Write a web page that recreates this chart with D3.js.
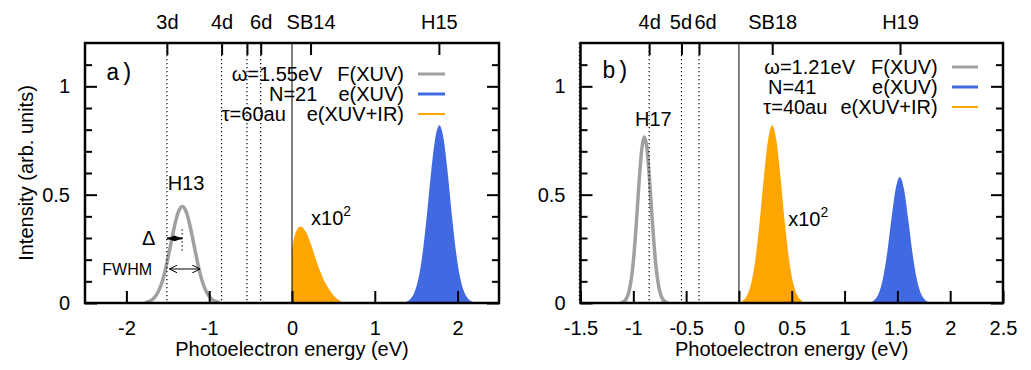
<!DOCTYPE html>
<html>
<head>
<meta charset="utf-8">
<script src="https://cdn.jsdelivr.net/npm/d3@7"></script>
<style>
  body { margin: 0; background: #fff; }
  text { font-family: "Liberation Sans", Arial, Helvetica, sans-serif; fill: #000; }
</style>
</head>
<body>
<script>
// ---- panel a) : omega = 1.55 eV ----
const fieldE_a = [-1.775, -1.725, -1.675, -1.625, -1.575, -1.525, -1.475, -1.425, -1.375, -1.325,
                  -1.275, -1.225, -1.175, -1.125, -1.075, -1.025, -0.975, -0.925, -0.875];
const field_a  = [0.0025, 0.0075, 0.0195, 0.045, 0.090, 0.160, 0.251, 0.345, 0.418, 0.445,
                  0.418, 0.345, 0.251, 0.160, 0.090, 0.045, 0.0195, 0.0075, 0.0025];
const xuvE_a = [1.33, 1.38, 1.43, 1.48, 1.53, 1.58, 1.63, 1.68, 1.73, 1.78,
                1.83, 1.88, 1.93, 1.98, 2.03, 2.08, 2.13, 2.18, 2.23];
const xuv_a  = [0.0015, 0.006, 0.018, 0.051, 0.118, 0.238, 0.408, 0.602, 0.759, 0.82,
                0.759, 0.602, 0.408, 0.238, 0.118, 0.051, 0.018, 0.006, 0.0015];
const irE_a = [0, 0.02, 0.04, 0.06, 0.08, 0.10, 0.12, 0.14, 0.16, 0.18, 0.20, 0.22, 0.24, 0.26, 0.28, 0.30,
               0.32, 0.34, 0.36, 0.38, 0.40, 0.42, 0.44, 0.46, 0.48, 0.50, 0.52, 0.54, 0.56, 0.58, 0.60, 0.62, 0.64];
const ir_a  = [0.24, 0.29, 0.32, 0.337, 0.348, 0.352, 0.351, 0.344, 0.332, 0.318, 0.30, 0.28, 0.258, 0.235, 0.211, 0.188,
               0.166, 0.146, 0.127, 0.11, 0.095, 0.081, 0.068, 0.056, 0.045, 0.036, 0.028, 0.021, 0.015, 0.010, 0.006, 0.003, 0];
const topLabels_a = ['3d', '4d', '', '6d', 'SB14', 'H15'];
const topE_a = [-1.511, -0.850, -0.544, -0.378, 0.224, 1.774];
const xTicks_a = [-2, -1, 0, 1, 2];
const params_a = ['\u03c9=1.55eV', 'N=21', '\u03c4=60au'];

// ---- panel b) : omega = 1.21 eV ----
const fieldE_b = [-1.12, -1.095, -1.07, -1.045, -1.02, -0.995, -0.97, -0.945, -0.92, -0.895,
                  -0.87, -0.845, -0.82, -0.795, -0.77, -0.745, -0.72, -0.695, -0.67];
const field_b  = [0.001, 0.005, 0.016, 0.045, 0.107, 0.218, 0.378, 0.560, 0.709, 0.767,
                  0.709, 0.560, 0.378, 0.218, 0.107, 0.045, 0.016, 0.005, 0.001];
const xuvE_b = [1.243, 1.283, 1.323, 1.363, 1.403, 1.443, 1.483, 1.523, 1.563, 1.603, 1.643, 1.683, 1.723, 1.763, 1.803];
const xuv_b  = [0.004, 0.014, 0.044, 0.112, 0.230, 0.385, 0.525, 0.582, 0.525, 0.385, 0.230, 0.112, 0.044, 0.014, 0.004];
const irE_b = [0.035, 0.075, 0.115, 0.155, 0.195, 0.235, 0.275, 0.315, 0.355, 0.395, 0.435, 0.475, 0.515, 0.555, 0.595];
const ir_b  = [0.011, 0.034, 0.089, 0.199, 0.369, 0.575, 0.750, 0.820, 0.750, 0.575, 0.369, 0.199, 0.089, 0.034, 0.011];
const topLabels_b = ['4d', '5d', '6d', 'SB18', 'H19'];
const topE_b = [-0.850, -0.544, -0.378, 0.315, 1.525];
const xTicks_b = [-1.5, -1, -0.5, 0, 0.5, 1, 1.5, 2, 2.5];
const params_b = ['\u03c9=1.21eV', 'N=41', '\u03c4=40au'];

// shared
const rydE = [-1.511, -0.850, -0.544, -0.378];   // 3d,4d,5d,6d
const seriesNames = ['F(XUV)', 'e(XUV)', 'e(XUV+IR)'];
const colors = ['#a0a0a0', '#4169e1', '#ffa500'];
const yMajor = [0, 0.5, 1];
const yMinor = [0.1, 0.2, 0.3, 0.4, 0.6, 0.7, 0.8, 0.9, 1.1];

const W = 1031, H = 370, TOP = 43, BOTTOM = 303;
const FONT = 20;

const svg = d3.select('body').append('svg').attr('width', W).attr('height', H);

const defs = svg.append('defs');
defs.append('marker').attr('id', 'headFill')
  .attr('viewBox', '0 0 8 6').attr('refX', 8).attr('refY', 3)
  .attr('markerWidth', 8).attr('markerHeight', 6).attr('markerUnits', 'userSpaceOnUse')
  .attr('orient', 'auto-start-reverse')
  .append('path').attr('d', 'M0,0L8,3L0,6Z').attr('fill', '#000');
defs.append('marker').attr('id', 'headOpen')
  .attr('viewBox', '0 0 8 8').attr('refX', 8).attr('refY', 4)
  .attr('markerWidth', 8).attr('markerHeight', 8).attr('markerUnits', 'userSpaceOnUse')
  .attr('orient', 'auto-start-reverse')
  .append('path').attr('d', 'M0,0L8,4L0,8').attr('fill', 'none').attr('stroke', '#000').attr('stroke-width', 1);

const hyphen = f => d => f(d).replace('\u2212', '-');

const panels = [
  {
    left: 85, right: 499, xDomain: [-2.5, 2.5], xTicks: xTicks_a, fmt: hyphen(d3.format('d')),
    field: fieldE_a.map((e, i) => [e, field_a[i]]),
    xuv: xuvE_a.map((e, i) => [e, xuv_a[i]]),
    ir: irE_a.map((e, i) => [e, ir_a[i]]),
    topE: topE_a, topLabels: topLabels_a, topShift: [0, 0, 0, 0, 0, 0], ryd: rydE, params: params_a,
    tag: 'a)', tagPos: [106, 80],
    legend: { paramX: [231.7, 269, 221.7], nameX: 404, lineX: [418, 445], base: [81, 101, 121] },
    sup: [0.23, 0.36]
  },
  {
    left: 580.5, right: 1003, xDomain: [-1.5, 2.5], xTicks: xTicks_b, fmt: hyphen(d3.format('~g')),
    field: fieldE_b.map((e, i) => [e, field_b[i]]),
    xuv: xuvE_b.map((e, i) => [e, xuv_b[i]]),
    ir: irE_b.map((e, i) => [e, ir_b[i]]),
    topE: topE_b, topLabels: topLabels_b, topShift: [0, -1, 6, 0, 0], ryd: rydE, params: params_b,
    tag: 'b)', tagPos: [602, 78],
    legend: { paramX: [764.3, 768, 763.3], nameX: 937.7, lineX: [952, 978], base: [74, 94, 114] },
    sup: [0.466, 0.355]
  }
];

function styleAxis(g, size) {
  g.select('.domain').remove();
  g.selectAll('.tick line').attr('stroke', '#000').attr('stroke-width', 2);
  g.selectAll('.tick text').attr('font-size', size)
    .attr('font-family', '"Liberation Sans", Arial, Helvetica, sans-serif').attr('fill', '#000');
}

function drawPanel(p, idx) {
  const x = d3.scaleLinear().domain(p.xDomain).range([p.left, p.right]);
  const y = d3.scaleLinear().domain([0, 1.2]).range([BOTTOM, TOP]);
  const g = svg.append('g');

  const clipId = 'clip' + idx;
  defs.append('clipPath').attr('id', clipId).append('rect')
    .attr('x', p.left).attr('y', TOP).attr('width', p.right - p.left).attr('height', BOTTOM - TOP);
  const plot = g.append('g').attr('clip-path', `url(#${clipId})`);

  const area = d3.area().x(d => x(d[0])).y0(y(0)).y1(d => y(d[1])).curve(d3.curveMonotoneX);
  const line = d3.line().x(d => x(d[0])).y(d => y(d[1])).curve(d3.curveMonotoneX);

  plot.append('path').datum(p.ir).attr('d', area).attr('fill', colors[2]);
  plot.append('path').datum(p.xuv).attr('d', area).attr('fill', colors[1]);
  plot.append('path').datum(p.field).attr('d', line)
    .attr('fill', 'none').attr('stroke', colors[0]).attr('stroke-width', 3.5);

  // Rydberg state markers (dotted), drawn unclipped like the original
  g.selectAll('line.ryd').data(p.ryd).enter().append('line')
    .attr('class', 'ryd')
    .attr('x1', d => x(d)).attr('x2', d => x(d))
    .attr('y1', TOP).attr('y2', BOTTOM)
    .attr('stroke', '#000').attr('stroke-width', 1.2).attr('stroke-dasharray', '1.2,2.8');

  // zero-energy line
  g.append('line').attr('x1', x(0)).attr('x2', x(0)).attr('y1', TOP).attr('y2', BOTTOM)
    .attr('stroke', '#000').attr('stroke-width', 1);

  // axes
  const bottom = g.append('g').attr('transform', `translate(0,${BOTTOM})`)
    .call(d3.axisBottom(x).tickValues(p.xTicks).tickFormat(p.fmt).tickSize(-12).tickPadding(18));
  styleAxis(bottom, FONT);
  const top = g.append('g').attr('transform', `translate(0,${TOP})`)
    .call(d3.axisTop(x).tickValues(p.topE).tickFormat((d, i) => p.topLabels[i]).tickSize(-12).tickPadding(14.5));
  styleAxis(top, FONT);
  top.selectAll('.tick text').attr('dx', (d, i) => p.topShift[i]);
  const left = g.append('g').attr('transform', `translate(${p.left},0)`)
    .call(d3.axisLeft(y).tickValues(yMajor).tickFormat(d3.format('~g')).tickSize(-12).tickPadding(15));
  styleAxis(left, FONT);
  const leftMinor = g.append('g').attr('transform', `translate(${p.left},0)`)
    .call(d3.axisLeft(y).tickValues(yMinor).tickFormat('').tickSize(-7));
  styleAxis(leftMinor, FONT);
  const right = g.append('g').attr('transform', `translate(${p.right},0)`)
    .call(d3.axisRight(y).tickValues(yMajor).tickFormat('').tickSize(-12));
  styleAxis(right, FONT);
  const rightMinor = g.append('g').attr('transform', `translate(${p.right},0)`)
    .call(d3.axisRight(y).tickValues(yMinor).tickFormat('').tickSize(-7));
  styleAxis(rightMinor, FONT);

  g.append('rect').attr('x', p.left).attr('y', TOP)
    .attr('width', p.right - p.left).attr('height', BOTTOM - TOP)
    .attr('fill', 'none').attr('stroke', '#000').attr('stroke-width', 2.5);

  // x title
  g.append('text').attr('x', (p.left + p.right) / 2).attr('y', 356)
    .attr('text-anchor', 'middle').attr('font-size', FONT).text('Photoelectron energy (eV)');

  // panel tag
  g.append('text').attr('x', p.tagPos[0]).attr('y', p.tagPos[1])
    .style('font-family', '"Liberation Mono", "Courier New", monospace')
    .attr('font-size', 23).text(p.tag);

  // legend
  const L = p.legend;
  seriesNames.forEach((name, i) => {
    g.append('text').attr('x', L.paramX[i]).attr('y', L.base[i]).attr('font-size', FONT).text(p.params[i]);
    g.append('text').attr('x', L.nameX).attr('y', L.base[i]).attr('text-anchor', 'end')
      .attr('font-size', FONT).text(name);
    g.append('line').attr('x1', L.lineX[0]).attr('x2', L.lineX[1])
      .attr('y1', L.base[i] - 7).attr('y2', L.base[i] - 7)
      .attr('stroke', colors[i]).attr('stroke-width', i === 2 ? 2 : 3);
  });

  // x10^2 label next to the XUV+IR peak
  const t = g.append('text').attr('x', x(p.sup[0])).attr('y', y(p.sup[1])).attr('font-size', FONT);
  t.append('tspan').text('x10');
  t.append('tspan').attr('dy', -9).attr('font-size', 14).text('2');

  return { x, y, g };
}

const pa = drawPanel(panels[0], 0);
const pb = drawPanel(panels[1], 1);

// y title (panel a only)
svg.append('text')
  .attr('transform', `translate(33,${(TOP + BOTTOM) / 2}) rotate(-90)`)
  .attr('text-anchor', 'middle').attr('font-size', FONT).text('Intensity (arb. units)');

// panel a annotations
{
  const { x, y, g } = pa;
  g.append('text').attr('x', x(-1.28)).attr('y', y(0.52)).attr('text-anchor', 'middle')
    .attr('font-size', FONT).text('H13');
  // Delta arrow between 3d and the H13 centre
  g.append('line').attr('x1', x(-1.326)).attr('x2', x(-1.326)).attr('y1', y(0.34)).attr('y2', y(0.235))
    .attr('stroke', '#000').attr('stroke-width', 1.2).attr('stroke-dasharray', '1.2,2.8');
  g.append('line').attr('x1', x(-1.511)).attr('x2', x(-1.326)).attr('y1', y(0.298)).attr('y2', y(0.298))
    .attr('stroke', '#000').attr('stroke-width', 2)
    .attr('marker-start', 'url(#headFill)').attr('marker-end', 'url(#headFill)');
  g.append('text').attr('x', x(-1.73)).attr('y', y(0.27)).attr('text-anchor', 'middle')
    .attr('font-size', FONT).text('\u0394');
  // FWHM arrow
  g.append('line').attr('x1', x(-1.48)).attr('x2', x(-1.11)).attr('y1', y(0.157)).attr('y2', y(0.157))
    .attr('stroke', '#000').attr('stroke-width', 1)
    .attr('marker-start', 'url(#headOpen)').attr('marker-end', 'url(#headOpen)');
  g.append('text').attr('x', x(-1.99)).attr('y', y(0.157) + 6).attr('text-anchor', 'middle')
    .attr('font-size', 16).text('FWHM');
}

// panel b annotations
{
  const { x, y, g } = pb;
  g.append('text').attr('x', x(-0.81)).attr('y', y(0.816)).attr('text-anchor', 'middle')
    .attr('font-size', FONT).text('H17');
}
</script>
</body>
</html>
